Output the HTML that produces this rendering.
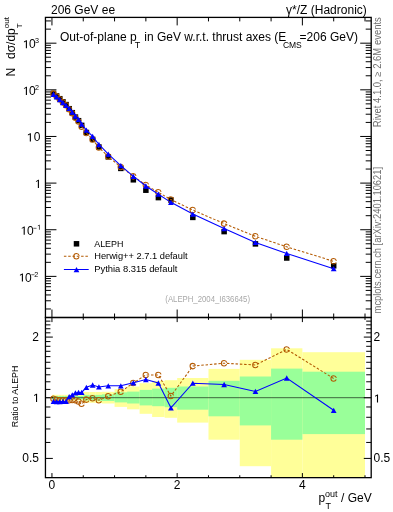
<!DOCTYPE html><html><head><meta charset="utf-8"><style>html,body{margin:0;padding:0;background:#fff;width:393px;height:512px;overflow:hidden}svg{display:block}</style></head><body>
<div style="will-change:transform"><svg width="393" height="512" viewBox="0 0 393 512" style="font-family:'Liberation Sans',sans-serif">
<g>
<rect x="51.95" y="394.80" width="3.13" height="5.80" fill="#ffff99"/>
<rect x="55.08" y="394.80" width="3.13" height="5.80" fill="#ffff99"/>
<rect x="58.21" y="394.80" width="3.13" height="5.80" fill="#ffff99"/>
<rect x="61.34" y="394.80" width="3.13" height="5.80" fill="#ffff99"/>
<rect x="64.47" y="394.80" width="3.13" height="5.80" fill="#ffff99"/>
<rect x="67.60" y="394.80" width="3.13" height="5.80" fill="#ffff99"/>
<rect x="70.73" y="394.80" width="3.13" height="5.80" fill="#ffff99"/>
<rect x="73.86" y="394.80" width="3.13" height="5.80" fill="#ffff99"/>
<rect x="76.99" y="394.80" width="3.13" height="5.80" fill="#ffff99"/>
<rect x="80.12" y="394.80" width="3.13" height="5.80" fill="#ffff99"/>
<rect x="83.25" y="392.00" width="6.26" height="10.80" fill="#ffff99"/>
<rect x="89.52" y="392.00" width="6.26" height="10.80" fill="#ffff99"/>
<rect x="95.78" y="392.00" width="6.26" height="11.00" fill="#ffff99"/>
<rect x="102.04" y="391.80" width="12.52" height="11.70" fill="#ffff99"/>
<rect x="114.56" y="389.10" width="12.52" height="17.80" fill="#ffff99"/>
<rect x="127.08" y="386.50" width="12.52" height="22.80" fill="#ffff99"/>
<rect x="139.60" y="383.20" width="12.52" height="30.60" fill="#ffff99"/>
<rect x="152.13" y="381.00" width="12.52" height="36.00" fill="#ffff99"/>
<rect x="164.65" y="380.20" width="12.52" height="37.60" fill="#ffff99"/>
<rect x="177.17" y="378.00" width="31.31" height="44.60" fill="#ffff99"/>
<rect x="208.48" y="368.90" width="31.30" height="70.80" fill="#ffff99"/>
<rect x="239.78" y="359.80" width="31.31" height="106.40" fill="#ffff99"/>
<rect x="271.08" y="348.30" width="31.31" height="129.35" fill="#ffff99"/>
<rect x="302.39" y="352.20" width="62.61" height="125.45" fill="#ffff99"/>
<rect x="51.95" y="396.00" width="3.13" height="3.40" fill="#99ff99"/>
<rect x="55.08" y="396.00" width="3.13" height="3.40" fill="#99ff99"/>
<rect x="58.21" y="396.00" width="3.13" height="3.40" fill="#99ff99"/>
<rect x="61.34" y="396.00" width="3.13" height="3.40" fill="#99ff99"/>
<rect x="64.47" y="396.00" width="3.13" height="3.40" fill="#99ff99"/>
<rect x="67.60" y="396.00" width="3.13" height="3.40" fill="#99ff99"/>
<rect x="70.73" y="396.00" width="3.13" height="3.40" fill="#99ff99"/>
<rect x="73.86" y="396.00" width="3.13" height="3.40" fill="#99ff99"/>
<rect x="76.99" y="396.00" width="3.13" height="3.40" fill="#99ff99"/>
<rect x="80.12" y="396.00" width="3.13" height="3.40" fill="#99ff99"/>
<rect x="83.25" y="394.90" width="6.26" height="5.60" fill="#99ff99"/>
<rect x="89.52" y="394.90" width="6.26" height="5.60" fill="#99ff99"/>
<rect x="95.78" y="394.90" width="6.26" height="5.80" fill="#99ff99"/>
<rect x="102.04" y="394.30" width="12.52" height="6.70" fill="#99ff99"/>
<rect x="114.56" y="392.30" width="12.52" height="10.10" fill="#99ff99"/>
<rect x="127.08" y="391.60" width="12.52" height="11.90" fill="#99ff99"/>
<rect x="139.60" y="389.90" width="12.52" height="15.50" fill="#99ff99"/>
<rect x="152.13" y="388.60" width="12.52" height="17.60" fill="#99ff99"/>
<rect x="164.65" y="387.80" width="12.52" height="19.40" fill="#99ff99"/>
<rect x="177.17" y="386.50" width="31.31" height="23.20" fill="#99ff99"/>
<rect x="208.48" y="380.80" width="31.30" height="35.50" fill="#99ff99"/>
<rect x="239.78" y="376.50" width="31.31" height="48.90" fill="#99ff99"/>
<rect x="271.08" y="368.60" width="31.31" height="71.10" fill="#99ff99"/>
<rect x="302.39" y="371.70" width="62.61" height="62.40" fill="#99ff99"/>
</g>
<line x1="45.45" y1="397.7" x2="371.2" y2="397.7" stroke="#000" stroke-opacity="0.75" stroke-width="0.8"/>
<rect x="45.45" y="17.4" width="325.75" height="300.10" fill="none" stroke="#000" stroke-width="1.3"/>
<rect x="45.45" y="317.5" width="325.75" height="160.15" fill="none" stroke="#000" stroke-width="1.3"/>
<path d="M51.95 17.4v8M51.95 317.5v-8M51.95 317.5v4.6M51.95 477.65v-4.6M83.25 17.4v4M83.25 317.5v-4M83.25 317.5v2.4M83.25 477.65v-2.4M114.56 17.4v4M114.56 317.5v-4M114.56 317.5v2.4M114.56 477.65v-2.4M145.87 17.4v4M145.87 317.5v-4M145.87 317.5v2.4M145.87 477.65v-2.4M177.17 17.4v8M177.17 317.5v-8M177.17 317.5v4.6M177.17 477.65v-4.6M208.48 17.4v4M208.48 317.5v-4M208.48 317.5v2.4M208.48 477.65v-2.4M239.78 17.4v4M239.78 317.5v-4M239.78 317.5v2.4M239.78 477.65v-2.4M271.08 17.4v4M271.08 317.5v-4M271.08 317.5v2.4M271.08 477.65v-2.4M302.39 17.4v8M302.39 317.5v-8M302.39 317.5v4.6M302.39 477.65v-4.6M333.69 17.4v4M333.69 317.5v-4M333.69 317.5v2.4M333.69 477.65v-2.4M365.00 17.4v4M365.00 317.5v-4M365.00 317.5v2.4M365.00 477.65v-2.4M45.45 308.98h5.5M371.2 308.98h-5.5M45.45 300.77h5.5M371.2 300.77h-5.5M45.45 294.94h5.5M371.2 294.94h-5.5M45.45 290.42h5.5M371.2 290.42h-5.5M45.45 286.73h5.5M371.2 286.73h-5.5M45.45 283.60h5.5M371.2 283.60h-5.5M45.45 280.90h5.5M371.2 280.90h-5.5M45.45 278.51h5.5M371.2 278.51h-5.5M45.45 276.38h11M371.2 276.38h-11M45.45 262.34h5.5M371.2 262.34h-5.5M45.45 254.13h5.5M371.2 254.13h-5.5M45.45 248.30h5.5M371.2 248.30h-5.5M45.45 243.78h5.5M371.2 243.78h-5.5M45.45 240.09h5.5M371.2 240.09h-5.5M45.45 236.96h5.5M371.2 236.96h-5.5M45.45 234.26h5.5M371.2 234.26h-5.5M45.45 231.87h5.5M371.2 231.87h-5.5M45.45 229.74h11M371.2 229.74h-11M45.45 215.70h5.5M371.2 215.70h-5.5M45.45 207.49h5.5M371.2 207.49h-5.5M45.45 201.66h5.5M371.2 201.66h-5.5M45.45 197.14h5.5M371.2 197.14h-5.5M45.45 193.45h5.5M371.2 193.45h-5.5M45.45 190.32h5.5M371.2 190.32h-5.5M45.45 187.62h5.5M371.2 187.62h-5.5M45.45 185.23h5.5M371.2 185.23h-5.5M45.45 183.10h11M371.2 183.10h-11M45.45 169.06h5.5M371.2 169.06h-5.5M45.45 160.85h5.5M371.2 160.85h-5.5M45.45 155.02h5.5M371.2 155.02h-5.5M45.45 150.50h5.5M371.2 150.50h-5.5M45.45 146.81h5.5M371.2 146.81h-5.5M45.45 143.68h5.5M371.2 143.68h-5.5M45.45 140.98h5.5M371.2 140.98h-5.5M45.45 138.59h5.5M371.2 138.59h-5.5M45.45 136.46h11M371.2 136.46h-11M45.45 122.42h5.5M371.2 122.42h-5.5M45.45 114.21h5.5M371.2 114.21h-5.5M45.45 108.38h5.5M371.2 108.38h-5.5M45.45 103.86h5.5M371.2 103.86h-5.5M45.45 100.17h5.5M371.2 100.17h-5.5M45.45 97.04h5.5M371.2 97.04h-5.5M45.45 94.34h5.5M371.2 94.34h-5.5M45.45 91.95h5.5M371.2 91.95h-5.5M45.45 89.82h11M371.2 89.82h-11M45.45 75.78h5.5M371.2 75.78h-5.5M45.45 67.57h5.5M371.2 67.57h-5.5M45.45 61.74h5.5M371.2 61.74h-5.5M45.45 57.22h5.5M371.2 57.22h-5.5M45.45 53.53h5.5M371.2 53.53h-5.5M45.45 50.40h5.5M371.2 50.40h-5.5M45.45 47.70h5.5M371.2 47.70h-5.5M45.45 45.31h5.5M371.2 45.31h-5.5M45.45 43.18h11M371.2 43.18h-11M45.45 29.14h5.5M371.2 29.14h-5.5M45.45 20.93h5.5M371.2 20.93h-5.5M45.45 458.41h7.4M371.2 458.41h-7.4M45.45 442.45h5M371.2 442.45h-5M45.45 428.96h5M371.2 428.96h-5M45.45 417.28h5M371.2 417.28h-5M45.45 406.97h5M371.2 406.97h-5M45.45 397.75h7.4M371.2 397.75h-7.4M45.45 389.41h5M371.2 389.41h-5M45.45 381.79h5M371.2 381.79h-5M45.45 374.79h5M371.2 374.79h-5M45.45 368.31h5M371.2 368.31h-5M45.45 362.27h5M371.2 362.27h-5M45.45 356.62h5M371.2 356.62h-5M45.45 351.31h5M371.2 351.31h-5M45.45 346.31h5M371.2 346.31h-5M45.45 341.58h5M371.2 341.58h-5M45.45 337.09h7.4M371.2 337.09h-7.4M45.45 332.82h5M371.2 332.82h-5M45.45 328.75h5M371.2 328.75h-5M45.45 324.86h5M371.2 324.86h-5M45.45 321.14h5M371.2 321.14h-5" stroke="#000" stroke-width="1" fill="none"/>
<rect x="50.77" y="90.65" width="5.5" height="5.5" fill="#000"/>
<rect x="53.90" y="93.15" width="5.5" height="5.5" fill="#000"/>
<rect x="57.03" y="95.95" width="5.5" height="5.5" fill="#000"/>
<rect x="60.16" y="99.05" width="5.5" height="5.5" fill="#000"/>
<rect x="63.29" y="101.85" width="5.5" height="5.5" fill="#000"/>
<rect x="66.42" y="105.95" width="5.5" height="5.5" fill="#000"/>
<rect x="69.55" y="109.95" width="5.5" height="5.5" fill="#000"/>
<rect x="72.68" y="114.35" width="5.5" height="5.5" fill="#000"/>
<rect x="75.81" y="117.95" width="5.5" height="5.5" fill="#000"/>
<rect x="78.94" y="122.65" width="5.5" height="5.5" fill="#000"/>
<rect x="83.64" y="129.75" width="5.5" height="5.5" fill="#000"/>
<rect x="89.90" y="136.65" width="5.5" height="5.5" fill="#000"/>
<rect x="96.16" y="144.25" width="5.5" height="5.5" fill="#000"/>
<rect x="105.55" y="154.15" width="5.5" height="5.5" fill="#000"/>
<rect x="118.07" y="165.65" width="5.5" height="5.5" fill="#000"/>
<rect x="130.59" y="177.05" width="5.5" height="5.5" fill="#000"/>
<rect x="143.12" y="187.45" width="5.5" height="5.5" fill="#000"/>
<rect x="155.64" y="194.85" width="5.5" height="5.5" fill="#000"/>
<rect x="168.16" y="197.25" width="5.5" height="5.5" fill="#000"/>
<rect x="190.07" y="214.65" width="5.5" height="5.5" fill="#000"/>
<rect x="221.38" y="228.85" width="5.5" height="5.5" fill="#000"/>
<rect x="252.68" y="241.15" width="5.5" height="5.5" fill="#000"/>
<rect x="283.99" y="255.25" width="5.5" height="5.5" fill="#000"/>
<rect x="330.94" y="263.05" width="5.5" height="5.5" fill="#000"/>
<polyline points="53.52,93.64 56.65,96.37 59.78,99.27 62.91,102.37 66.04,105.17 69.17,109.29 72.30,113.22 75.43,117.69 78.56,121.57 81.69,126.80 86.39,132.93 92.65,139.50 98.91,147.59 108.30,156.54 120.82,167.02 133.34,176.36 145.87,184.93 158.39,192.33 170.91,199.59 192.82,210.07 224.13,223.60 255.43,236.32 286.74,246.81 333.69,261.34" fill="none" stroke="#b35900" stroke-width="1.05" stroke-dasharray="2.5,1.8"/>
<circle cx="53.52" cy="93.64" r="2.75" fill="none" stroke="#b35900" stroke-width="1.05" stroke-dasharray="15.2,2.1" stroke-dashoffset="16.25"/>
<circle cx="56.65" cy="96.37" r="2.75" fill="none" stroke="#b35900" stroke-width="1.05" stroke-dasharray="15.2,2.1" stroke-dashoffset="16.25"/>
<circle cx="59.78" cy="99.27" r="2.75" fill="none" stroke="#b35900" stroke-width="1.05" stroke-dasharray="15.2,2.1" stroke-dashoffset="16.25"/>
<circle cx="62.91" cy="102.37" r="2.75" fill="none" stroke="#b35900" stroke-width="1.05" stroke-dasharray="15.2,2.1" stroke-dashoffset="16.25"/>
<circle cx="66.04" cy="105.17" r="2.75" fill="none" stroke="#b35900" stroke-width="1.05" stroke-dasharray="15.2,2.1" stroke-dashoffset="16.25"/>
<circle cx="69.17" cy="109.29" r="2.75" fill="none" stroke="#b35900" stroke-width="1.05" stroke-dasharray="15.2,2.1" stroke-dashoffset="16.25"/>
<circle cx="72.30" cy="113.22" r="2.75" fill="none" stroke="#b35900" stroke-width="1.05" stroke-dasharray="15.2,2.1" stroke-dashoffset="16.25"/>
<circle cx="75.43" cy="117.69" r="2.75" fill="none" stroke="#b35900" stroke-width="1.05" stroke-dasharray="15.2,2.1" stroke-dashoffset="16.25"/>
<circle cx="78.56" cy="121.57" r="2.75" fill="none" stroke="#b35900" stroke-width="1.05" stroke-dasharray="15.2,2.1" stroke-dashoffset="16.25"/>
<circle cx="81.69" cy="126.80" r="2.75" fill="none" stroke="#b35900" stroke-width="1.05" stroke-dasharray="15.2,2.1" stroke-dashoffset="16.25"/>
<circle cx="86.39" cy="132.93" r="2.75" fill="none" stroke="#b35900" stroke-width="1.05" stroke-dasharray="15.2,2.1" stroke-dashoffset="16.25"/>
<circle cx="92.65" cy="139.50" r="2.75" fill="none" stroke="#b35900" stroke-width="1.05" stroke-dasharray="15.2,2.1" stroke-dashoffset="16.25"/>
<circle cx="98.91" cy="147.59" r="2.75" fill="none" stroke="#b35900" stroke-width="1.05" stroke-dasharray="15.2,2.1" stroke-dashoffset="16.25"/>
<circle cx="108.30" cy="156.54" r="2.75" fill="none" stroke="#b35900" stroke-width="1.05" stroke-dasharray="15.2,2.1" stroke-dashoffset="16.25"/>
<circle cx="120.82" cy="167.02" r="2.75" fill="none" stroke="#b35900" stroke-width="1.05" stroke-dasharray="15.2,2.1" stroke-dashoffset="16.25"/>
<circle cx="133.34" cy="176.36" r="2.75" fill="none" stroke="#b35900" stroke-width="1.05" stroke-dasharray="15.2,2.1" stroke-dashoffset="16.25"/>
<circle cx="145.87" cy="184.93" r="2.75" fill="none" stroke="#b35900" stroke-width="1.05" stroke-dasharray="15.2,2.1" stroke-dashoffset="16.25"/>
<circle cx="158.39" cy="192.33" r="2.75" fill="none" stroke="#b35900" stroke-width="1.05" stroke-dasharray="15.2,2.1" stroke-dashoffset="16.25"/>
<circle cx="170.91" cy="199.59" r="2.75" fill="none" stroke="#b35900" stroke-width="1.05" stroke-dasharray="15.2,2.1" stroke-dashoffset="16.25"/>
<circle cx="192.82" cy="210.07" r="2.75" fill="none" stroke="#b35900" stroke-width="1.05" stroke-dasharray="15.2,2.1" stroke-dashoffset="16.25"/>
<circle cx="224.13" cy="223.60" r="2.75" fill="none" stroke="#b35900" stroke-width="1.05" stroke-dasharray="15.2,2.1" stroke-dashoffset="16.25"/>
<circle cx="255.43" cy="236.32" r="2.75" fill="none" stroke="#b35900" stroke-width="1.05" stroke-dasharray="15.2,2.1" stroke-dashoffset="16.25"/>
<circle cx="286.74" cy="246.81" r="2.75" fill="none" stroke="#b35900" stroke-width="1.05" stroke-dasharray="15.2,2.1" stroke-dashoffset="16.25"/>
<circle cx="333.69" cy="261.34" r="2.75" fill="none" stroke="#b35900" stroke-width="1.05" stroke-dasharray="15.2,2.1" stroke-dashoffset="16.25"/>
<polyline points="53.52,94.24 56.65,96.79 59.78,99.59 62.91,102.64 66.04,105.42 69.17,108.46 72.30,112.04 75.43,115.98 78.56,119.46 81.69,124.16 86.39,130.08 92.65,136.45 98.91,144.49 108.30,154.13 120.82,165.63 133.34,176.34 145.87,185.98 158.39,194.19 170.91,202.33 192.82,214.03 224.13,228.53 255.43,242.43 286.74,253.43 333.69,268.70" fill="none" stroke="#0000ff" stroke-width="1.05"/>
<path d="M53.52 91.59L56.37 96.89L50.67 96.89Z" fill="#0000ff"/>
<path d="M56.65 94.14L59.50 99.44L53.80 99.44Z" fill="#0000ff"/>
<path d="M59.78 96.94L62.63 102.24L56.93 102.24Z" fill="#0000ff"/>
<path d="M62.91 99.99L65.76 105.29L60.06 105.29Z" fill="#0000ff"/>
<path d="M66.04 102.77L68.89 108.07L63.19 108.07Z" fill="#0000ff"/>
<path d="M69.17 105.81L72.02 111.11L66.32 111.11Z" fill="#0000ff"/>
<path d="M72.30 109.39L75.15 114.69L69.45 114.69Z" fill="#0000ff"/>
<path d="M75.43 113.33L78.28 118.63L72.58 118.63Z" fill="#0000ff"/>
<path d="M78.56 116.81L81.41 122.11L75.71 122.11Z" fill="#0000ff"/>
<path d="M81.69 121.51L84.54 126.81L78.84 126.81Z" fill="#0000ff"/>
<path d="M86.39 127.43L89.24 132.73L83.54 132.73Z" fill="#0000ff"/>
<path d="M92.65 133.80L95.50 139.10L89.80 139.10Z" fill="#0000ff"/>
<path d="M98.91 141.84L101.76 147.14L96.06 147.14Z" fill="#0000ff"/>
<path d="M108.30 151.48L111.15 156.78L105.45 156.78Z" fill="#0000ff"/>
<path d="M120.82 162.98L123.67 168.28L117.97 168.28Z" fill="#0000ff"/>
<path d="M133.34 173.69L136.19 178.99L130.49 178.99Z" fill="#0000ff"/>
<path d="M145.87 183.33L148.72 188.63L143.02 188.63Z" fill="#0000ff"/>
<path d="M158.39 191.54L161.24 196.84L155.54 196.84Z" fill="#0000ff"/>
<path d="M170.91 199.68L173.76 204.98L168.06 204.98Z" fill="#0000ff"/>
<path d="M192.82 211.38L195.67 216.68L189.97 216.68Z" fill="#0000ff"/>
<path d="M224.13 225.88L226.98 231.18L221.28 231.18Z" fill="#0000ff"/>
<path d="M255.43 239.78L258.28 245.08L252.58 245.08Z" fill="#0000ff"/>
<path d="M286.74 250.78L289.59 256.08L283.89 256.08Z" fill="#0000ff"/>
<path d="M333.69 266.05L336.55 271.35L330.84 271.35Z" fill="#0000ff"/>
<polyline points="53.52,398.80 56.65,399.80 59.78,400.20 62.91,400.20 66.04,400.20 69.17,400.30 72.30,400.00 75.43,400.30 78.56,401.50 81.69,403.80 86.39,399.60 92.65,398.20 98.91,400.30 108.30,396.20 120.82,391.80 133.34,382.90 145.87,375.00 158.39,375.00 170.91,396.00 192.82,366.10 224.13,363.20 255.43,365.00 286.74,349.40 333.69,378.50" fill="none" stroke="#b35900" stroke-width="1.05" stroke-dasharray="2.5,1.8"/>
<circle cx="53.52" cy="398.80" r="2.75" fill="none" stroke="#b35900" stroke-width="1.05" stroke-dasharray="15.2,2.1" stroke-dashoffset="16.25"/>
<circle cx="56.65" cy="399.80" r="2.75" fill="none" stroke="#b35900" stroke-width="1.05" stroke-dasharray="15.2,2.1" stroke-dashoffset="16.25"/>
<circle cx="59.78" cy="400.20" r="2.75" fill="none" stroke="#b35900" stroke-width="1.05" stroke-dasharray="15.2,2.1" stroke-dashoffset="16.25"/>
<circle cx="62.91" cy="400.20" r="2.75" fill="none" stroke="#b35900" stroke-width="1.05" stroke-dasharray="15.2,2.1" stroke-dashoffset="16.25"/>
<circle cx="66.04" cy="400.20" r="2.75" fill="none" stroke="#b35900" stroke-width="1.05" stroke-dasharray="15.2,2.1" stroke-dashoffset="16.25"/>
<circle cx="69.17" cy="400.30" r="2.75" fill="none" stroke="#b35900" stroke-width="1.05" stroke-dasharray="15.2,2.1" stroke-dashoffset="16.25"/>
<circle cx="72.30" cy="400.00" r="2.75" fill="none" stroke="#b35900" stroke-width="1.05" stroke-dasharray="15.2,2.1" stroke-dashoffset="16.25"/>
<circle cx="75.43" cy="400.30" r="2.75" fill="none" stroke="#b35900" stroke-width="1.05" stroke-dasharray="15.2,2.1" stroke-dashoffset="16.25"/>
<circle cx="78.56" cy="401.50" r="2.75" fill="none" stroke="#b35900" stroke-width="1.05" stroke-dasharray="15.2,2.1" stroke-dashoffset="16.25"/>
<circle cx="81.69" cy="403.80" r="2.75" fill="none" stroke="#b35900" stroke-width="1.05" stroke-dasharray="15.2,2.1" stroke-dashoffset="16.25"/>
<circle cx="86.39" cy="399.60" r="2.75" fill="none" stroke="#b35900" stroke-width="1.05" stroke-dasharray="15.2,2.1" stroke-dashoffset="16.25"/>
<circle cx="92.65" cy="398.20" r="2.75" fill="none" stroke="#b35900" stroke-width="1.05" stroke-dasharray="15.2,2.1" stroke-dashoffset="16.25"/>
<circle cx="98.91" cy="400.30" r="2.75" fill="none" stroke="#b35900" stroke-width="1.05" stroke-dasharray="15.2,2.1" stroke-dashoffset="16.25"/>
<circle cx="108.30" cy="396.20" r="2.75" fill="none" stroke="#b35900" stroke-width="1.05" stroke-dasharray="15.2,2.1" stroke-dashoffset="16.25"/>
<circle cx="120.82" cy="391.80" r="2.75" fill="none" stroke="#b35900" stroke-width="1.05" stroke-dasharray="15.2,2.1" stroke-dashoffset="16.25"/>
<circle cx="133.34" cy="382.90" r="2.75" fill="none" stroke="#b35900" stroke-width="1.05" stroke-dasharray="15.2,2.1" stroke-dashoffset="16.25"/>
<circle cx="145.87" cy="375.00" r="2.75" fill="none" stroke="#b35900" stroke-width="1.05" stroke-dasharray="15.2,2.1" stroke-dashoffset="16.25"/>
<circle cx="158.39" cy="375.00" r="2.75" fill="none" stroke="#b35900" stroke-width="1.05" stroke-dasharray="15.2,2.1" stroke-dashoffset="16.25"/>
<circle cx="170.91" cy="396.00" r="2.75" fill="none" stroke="#b35900" stroke-width="1.05" stroke-dasharray="15.2,2.1" stroke-dashoffset="16.25"/>
<circle cx="192.82" cy="366.10" r="2.75" fill="none" stroke="#b35900" stroke-width="1.05" stroke-dasharray="15.2,2.1" stroke-dashoffset="16.25"/>
<circle cx="224.13" cy="363.20" r="2.75" fill="none" stroke="#b35900" stroke-width="1.05" stroke-dasharray="15.2,2.1" stroke-dashoffset="16.25"/>
<circle cx="255.43" cy="365.00" r="2.75" fill="none" stroke="#b35900" stroke-width="1.05" stroke-dasharray="15.2,2.1" stroke-dashoffset="16.25"/>
<circle cx="286.74" cy="349.40" r="2.75" fill="none" stroke="#b35900" stroke-width="1.05" stroke-dasharray="15.2,2.1" stroke-dashoffset="16.25"/>
<circle cx="333.69" cy="378.50" r="2.75" fill="none" stroke="#b35900" stroke-width="1.05" stroke-dasharray="15.2,2.1" stroke-dashoffset="16.25"/>
<polyline points="53.52,401.40 56.65,401.60 59.78,401.60 62.91,401.40 66.04,401.30 69.17,396.70 72.30,394.90 75.43,392.90 78.56,392.40 81.69,392.40 86.39,387.30 92.65,385.00 98.91,386.90 108.30,385.80 120.82,385.80 133.34,382.80 145.87,379.50 158.39,383.00 170.91,407.80 192.82,383.20 224.13,384.50 255.43,391.40 286.74,378.00 333.69,410.30" fill="none" stroke="#0000ff" stroke-width="1.05"/>
<path d="M53.52 398.75L56.37 404.05L50.67 404.05Z" fill="#0000ff"/>
<path d="M56.65 398.95L59.50 404.25L53.80 404.25Z" fill="#0000ff"/>
<path d="M59.78 398.95L62.63 404.25L56.93 404.25Z" fill="#0000ff"/>
<path d="M62.91 398.75L65.76 404.05L60.06 404.05Z" fill="#0000ff"/>
<path d="M66.04 398.65L68.89 403.95L63.19 403.95Z" fill="#0000ff"/>
<path d="M69.17 394.05L72.02 399.35L66.32 399.35Z" fill="#0000ff"/>
<path d="M72.30 392.25L75.15 397.55L69.45 397.55Z" fill="#0000ff"/>
<path d="M75.43 390.25L78.28 395.55L72.58 395.55Z" fill="#0000ff"/>
<path d="M78.56 389.75L81.41 395.05L75.71 395.05Z" fill="#0000ff"/>
<path d="M81.69 389.75L84.54 395.05L78.84 395.05Z" fill="#0000ff"/>
<path d="M86.39 384.65L89.24 389.95L83.54 389.95Z" fill="#0000ff"/>
<path d="M92.65 382.35L95.50 387.65L89.80 387.65Z" fill="#0000ff"/>
<path d="M98.91 384.25L101.76 389.55L96.06 389.55Z" fill="#0000ff"/>
<path d="M108.30 383.15L111.15 388.45L105.45 388.45Z" fill="#0000ff"/>
<path d="M120.82 383.15L123.67 388.45L117.97 388.45Z" fill="#0000ff"/>
<path d="M133.34 380.15L136.19 385.45L130.49 385.45Z" fill="#0000ff"/>
<path d="M145.87 376.85L148.72 382.15L143.02 382.15Z" fill="#0000ff"/>
<path d="M158.39 380.35L161.24 385.65L155.54 385.65Z" fill="#0000ff"/>
<path d="M170.91 405.15L173.76 410.45L168.06 410.45Z" fill="#0000ff"/>
<path d="M192.82 380.55L195.67 385.85L189.97 385.85Z" fill="#0000ff"/>
<path d="M224.13 381.85L226.98 387.15L221.28 387.15Z" fill="#0000ff"/>
<path d="M255.43 388.75L258.28 394.05L252.58 394.05Z" fill="#0000ff"/>
<path d="M286.74 375.35L289.59 380.65L283.89 380.65Z" fill="#0000ff"/>
<path d="M333.69 407.65L336.55 412.95L330.84 412.95Z" fill="#0000ff"/>
<rect x="73.75" y="241.05" width="5.5" height="5.5" fill="#000"/>
<line x1="63.9" y1="256.3" x2="88.5" y2="256.3" stroke="#b35900" stroke-width="1.05" stroke-dasharray="2.5,1.8"/>
<circle cx="76.50" cy="256.30" r="2.75" fill="none" stroke="#b35900" stroke-width="1.05" stroke-dasharray="15.2,2.1" stroke-dashoffset="16.25"/>
<line x1="63.9" y1="269.5" x2="88.7" y2="269.5" stroke="#0000ff" stroke-width="1.05"/>
<path d="M76.50 267.05L79.35 272.35L73.65 272.35Z" fill="#0000ff"/>
<text x="94.2" y="246.9" font-size="9" textLength="29.2" lengthAdjust="spacingAndGlyphs">ALEPH</text>
<text x="94.2" y="259.0" font-size="9" textLength="93.4" lengthAdjust="spacingAndGlyphs">Herwig++ 2.7.1 default</text>
<text x="94.2" y="271.5" font-size="9" textLength="83.2" lengthAdjust="spacingAndGlyphs">Pythia 8.315 default</text>
<text x="165.3" y="302.2" font-size="8.3" fill="#a8a8a8" textLength="84.7" lengthAdjust="spacingAndGlyphs">(ALEPH_2004_I636645)</text>
<text x="51.0" y="13.7" font-size="12">206 GeV ee</text>
<text x="366.8" y="13.7" font-size="12" text-anchor="end">γ*/Z (Hadronic)</text>
<text x="60.0" y="41.2" font-size="12">Out-of-plane p</text>
<text x="134.8" y="47.8" font-size="9">T</text>
<text x="144.3" y="41.2" font-size="12">in GeV w.r.t. thrust axes (E</text>
<text x="282.9" y="48.3" font-size="8.5">CMS</text>
<text x="299.6" y="41.2" font-size="12">=206 GeV)</text>
<path d="M26.95 48.33L26.95 40.13L26.30 40.13L23.95 41.53L23.95 42.43L25.85 41.43L25.85 48.33Z" fill="#000"/>
<text x="29.0" y="48.33" font-size="12">0</text>
<text x="35.0" y="43.38" font-size="7.2">3</text>
<path d="M26.95 94.97L26.95 86.77L26.30 86.77L23.95 88.17L23.95 89.07L25.85 88.07L25.85 94.97Z" fill="#000"/>
<text x="29.0" y="94.97" font-size="12">0</text>
<text x="35.0" y="90.02" font-size="7.2">2</text>
<path d="M30.90 141.41L30.90 133.21L30.25 133.21L27.90 134.61L27.90 135.51L29.80 134.51L29.80 141.41Z" fill="#000"/>
<text x="33.7" y="141.41" font-size="12">0</text>
<path d="M38.95 188.00L38.95 179.80L38.30 179.80L35.95 181.20L35.95 182.10L37.85 181.10L37.85 188.00Z" fill="#000"/>
<path d="M24.75 234.69L24.75 226.49L24.10 226.49L21.75 227.89L21.75 228.79L23.65 227.79L23.65 234.69Z" fill="#000"/>
<text x="26.9" y="234.69" font-size="12">0</text>
<rect x="33.30" y="227.84" width="3.2" height="0.8" fill="#000" fill-opacity="0.75"/>
<path d="M39.64 229.84L39.64 224.84L39.24 224.84L37.81 225.69L37.81 226.24L38.96 225.63L38.96 229.84Z" fill="#000"/>
<path d="M22.95 281.58L22.95 273.38L22.30 273.38L19.95 274.78L19.95 275.68L21.85 274.68L21.85 281.58Z" fill="#000"/>
<text x="25.0" y="281.58" font-size="12">0</text>
<rect x="31.30" y="274.38" width="3.2" height="0.8" fill="#000" fill-opacity="0.75"/>
<text x="34.3" y="276.78" font-size="7.2">2</text>
<text x="39.0" y="341.19" font-size="12" text-anchor="end">2</text>
<text x="373.6" y="341.19" font-size="12">2</text>
<text x="39.0" y="461.71" font-size="12" text-anchor="end">0.5</text>
<text x="373.6" y="461.71" font-size="12">0.5</text>
<path d="M37.10 401.90L37.10 393.70L36.45 393.70L34.10 395.10L34.10 396.00L36.00 395.00L36.00 401.90Z" fill="#000"/>
<path d="M378.05 402.60L378.05 394.40L377.40 394.40L375.05 395.80L375.05 396.70L376.95 395.70L376.95 402.60Z" fill="#000"/>
<text x="51.95" y="489.0" font-size="12" text-anchor="middle">0</text>
<text x="177.17" y="489.0" font-size="12" text-anchor="middle">2</text>
<text x="302.39" y="489.0" font-size="12" text-anchor="middle">4</text>
<text x="318.4" y="502.0" font-size="12">p</text>
<text x="325.0" y="497.0" font-size="9">out</text>
<text x="325.4" y="509.0" font-size="9">T</text>
<text x="341.0" y="502.0" font-size="12">/ GeV</text>
<g transform="rotate(-90)">
<text x="-76.5" y="14.9" font-size="12">N</text>
<text x="-59.0" y="15.0" font-size="12">dσ/dp</text>
<text x="-28.2" y="21.9" font-size="8">T</text>
<text x="-28.2" y="9.4" font-size="8">out</text>
<text x="-396.4" y="17.6" font-size="9.2" text-anchor="middle" textLength="61.5" lengthAdjust="spacingAndGlyphs">Ratio to ALEPH</text>
<text x="-127.2" y="380.8" font-size="10" fill="#707070" textLength="110.0" lengthAdjust="spacingAndGlyphs">Rivet 4.1.0, ≥ 2.6M events</text>
<text x="-313.4" y="381.2" font-size="10" fill="#707070" textLength="146.4" lengthAdjust="spacingAndGlyphs">mcplots.cern.ch [arXiv:2401.10621]</text>
</g>
</svg></div></body></html>
